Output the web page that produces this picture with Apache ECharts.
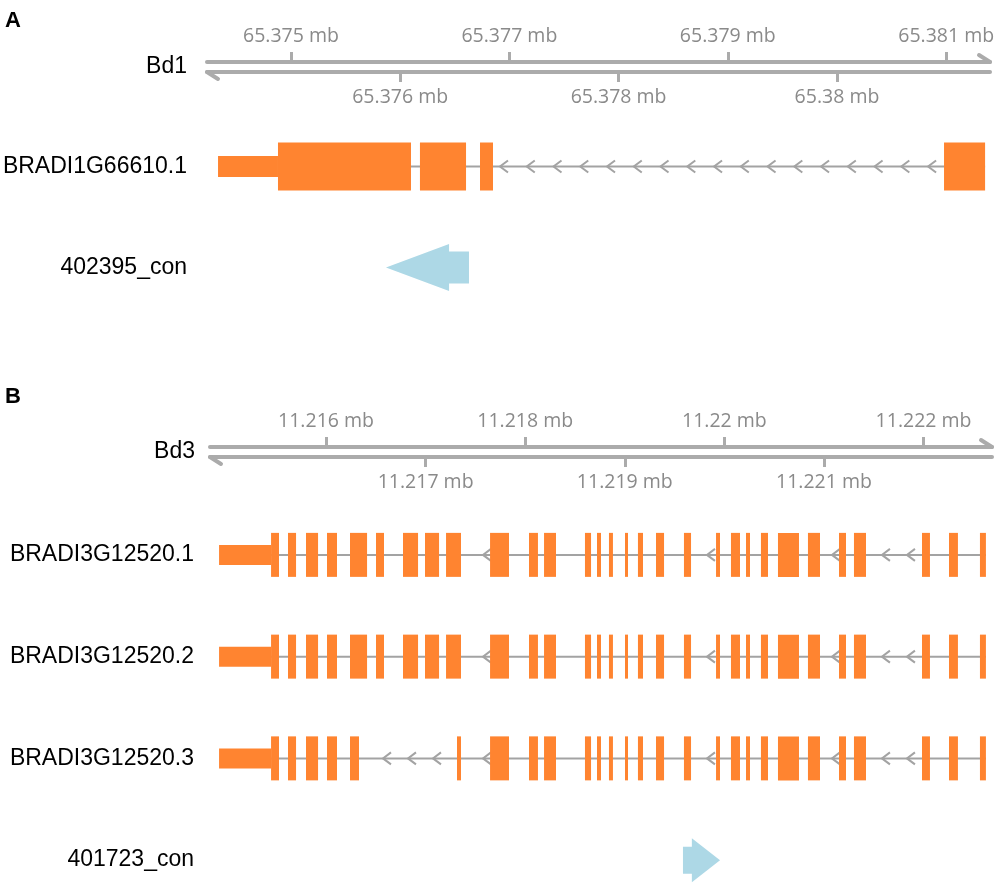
<!DOCTYPE html>
<html><head><meta charset="utf-8">
<script src="https://cdn.jsdelivr.net/npm/echarts@6/dist/echarts.min.js"></script>
<style>html,body{margin:0;padding:0;background:#fff}#c{width:1000px;height:887px}</style>
</head><body><div id="c"></div>
<script>
// ================= DATA =================
// Panel A
const chromA = 'Bd1';
const rangeA = [65374231, 65381401];
const ticksTopA = [65375000, 65377000, 65379000, 65381000];
const ticksBottomA = [65376000, 65378000, 65380000];
const rowsA = ['BRADI1G66610.1', '402395_con'];
const utrA1 = [[65374332, 65374881]];
const cdsA1 = [[65374881, 65376099], [65376181, 65376603], [65376731, 65376850], [65380980, 65381356]];
const chevronsA1 = [65376914, 65377159, 65377404, 65377649, 65377894, 65378139, 65378384, 65378629,
  65378874, 65379119, 65379364, 65379609, 65379854, 65380099, 65380344, 65380589, 65380834];
const conA = [65375870, 65376630];
const conAStrand = -1;

// Panel B
const chromB = 'Bd3';
const rangeB = [11214835, 11222687];
const ticksTopB = [11216000, 11218000, 11220000, 11222000];
const ticksBottomB = [11217000, 11219000, 11221000];
const rowsB = ['BRADI3G12520.1', 'BRADI3G12520.2', 'BRADI3G12520.3', '401723_con'];
const utrB1 = [[11214926, 11215448]];
const utrB2 = [[11214926, 11215448]];
const utrB3 = [[11214926, 11215448]];
const cdsB1 = [[11215448,11215528],[11215618,11215699],[11215799,11215920],[11216010,11216110],[11216241,11216412],
  [11216502,11216582],[11216773,11216924],[11216994,11217135],[11217205,11217355],[11217647,11217837],
  [11218038,11218128],[11218189,11218309],[11218600,11218661],[11218721,11218761],[11218841,11218881],
  [11219002,11219032],[11219132,11219183],[11219313,11219394],[11219594,11219665],[11219916,11219956],
  [11220066,11220157],[11220217,11220257],[11220367,11220438],[11220538,11220749],[11220839,11220960],
  [11221151,11221221],[11221301,11221422],[11221984,11222064],[11222255,11222345],[11222566,11222626]];
const cdsB2 = [[11215448,11215528],[11215618,11215699],[11215799,11215920],[11216010,11216110],[11216241,11216412],
  [11216502,11216582],[11216773,11216924],[11216994,11217135],[11217205,11217355],[11217647,11217837],
  [11218038,11218128],[11218189,11218309],[11218600,11218661],[11218721,11218761],[11218841,11218881],
  [11219002,11219032],[11219132,11219183],[11219313,11219394],[11219594,11219665],[11219916,11219956],
  [11220066,11220157],[11220217,11220257],[11220367,11220438],[11220538,11220749],[11220839,11220960],
  [11221151,11221221],[11221301,11221422],[11221984,11222064],[11222255,11222345],[11222566,11222626]];
const cdsB3 = [[11215448,11215528],[11215618,11215699],[11215799,11215920],[11216010,11216110],[11216241,11216331],
  [11217315,11217355],[11217647,11217837],
  [11218038,11218128],[11218189,11218309],[11218600,11218661],[11218721,11218761],[11218841,11218881],
  [11219002,11219032],[11219132,11219183],[11219313,11219394],[11219594,11219665],[11219916,11219956],
  [11220066,11220157],[11220217,11220257],[11220367,11220438],[11220538,11220749],[11220839,11220960],
  [11221151,11221221],[11221301,11221422],[11221984,11222064],[11222255,11222345],[11222566,11222626]];
const chevronsB1 = [11217576, 11219825, 11221080, 11221582, 11221833];
const chevronsB2 = [11217576, 11219825, 11221080, 11221582, 11221833];
const chevronsB3 = [11216572, 11216823, 11217074, 11217576, 11219825, 11221080, 11221582, 11221833];
const conB = [11219584, 11219956];
const conBStrand = 1;

// ================= STYLE / BUILD =================
const ORANGE = '#ff8430';
const GREY = '#a3a3a3';
const AXIS_GREY = '#ababab';
const TICK_TEXT = '#8a8a8a';
const BLUE = '#add8e6';
const LABEL_FONT = 'Liberation Sans';
const TICK_FONT = 'Open Sans';

function mbFormatter(v) { return parseFloat((v / 1e6).toFixed(3)) + ' mb'; }

function transcriptItems(utr, cds, row) {
  const exons = [], introns = [];
  utr.forEach(u => exons.push([u[0], u[1], row, 0]));
  cds.forEach(c => exons.push([c[0], c[1], row, 1]));
  const s = Math.min(...cds.map(c => c[0])), e = Math.max(...cds.map(c => c[1]));
  introns.push([s, e, row]);
  return { exons, introns };
}

function rulerAxes(grid, range, top, bottom) {
  const line = { show: true, lineStyle: { color: AXIS_GREY, width: 4 } };
  const base = { type: 'value', gridIndex: grid, min: range[0], max: range[1], splitLine: { show: false } };
  return [
    Object.assign({}, base, {
      position: 'top', axisLine: line,
      axisTick: { show: true, customValues: top, length: 10, lineStyle: { color: AXIS_GREY, width: 3 } },
      axisLabel: { show: true, customValues: top, formatter: mbFormatter, color: TICK_TEXT, fontSize: 19.5, fontFamily: TICK_FONT, margin: 16 }
    }),
    Object.assign({}, base, {
      position: 'bottom', axisLine: line,
      axisTick: { show: true, customValues: bottom, length: 10, lineStyle: { color: AXIS_GREY, width: 3 } },
      axisLabel: { show: true, customValues: bottom, formatter: mbFormatter, color: TICK_TEXT, fontSize: 19.5, fontFamily: TICK_FONT, margin: 15 }
    })
  ];
}

function trackXAxis(grid, range) {
  return { type: 'value', gridIndex: grid, min: range[0], max: range[1], show: false };
}

function catYAxis(grid, rows, margin) {
  return {
    type: 'category', gridIndex: grid, data: rows, inverse: true,
    axisLine: { show: false }, axisTick: { show: false }, splitLine: { show: false },
    axisLabel: { color: '#000', fontSize: 23, fontFamily: LABEL_FONT, margin: margin }
  };
}

function barbSeries(xi, yi, range) {
  return {
    type: 'custom', xAxisIndex: xi, yAxisIndex: yi, silent: true, z: 5,
    data: [[range[0], range[1], 0]],
    renderItem: function (params, api) {
      const cs = params.coordSys;
      const l = api.coord([api.value(0), 0])[0];
      const r = api.coord([api.value(1), 0])[0];
      const yT = cs.y, yB = cs.y + cs.height;
      const st = { stroke: AXIS_GREY, lineWidth: 4, lineCap: 'round' };
      return {
        type: 'group', children: [
          { type: 'line', shape: { x1: r, y1: yT, x2: r - 11, y2: yT - 7 }, style: st },
          { type: 'line', shape: { x1: l, y1: yB, x2: l + 11, y2: yB + 7 }, style: st }
        ]
      };
    }
  };
}

function exonSeries(xi, yi, items, hCds, hUtr) {
  return {
    type: 'custom', xAxisIndex: xi, yAxisIndex: yi, silent: true, z: 4,
    encode: { x: [0, 1], y: 2 }, data: items,
    renderItem: function (params, api) {
      const r = api.value(2);
      const p0 = api.coord([api.value(0), r]), p1 = api.coord([api.value(1), r]);
      const h = api.value(3) ? hCds : hUtr;
      return { type: 'rect', shape: { x: p0[0], y: p0[1] - h / 2, width: Math.max(p1[0] - p0[0], 1.5), height: h },
        style: { fill: ORANGE } };
    }
  };
}

function intronSeries(xi, yi, items) {
  return {
    type: 'custom', xAxisIndex: xi, yAxisIndex: yi, silent: true, z: 2,
    encode: { x: [0, 1], y: 2 }, data: items,
    renderItem: function (params, api) {
      const r = api.value(2);
      const p0 = api.coord([api.value(0), r]), p1 = api.coord([api.value(1), r]);
      return { type: 'line', shape: { x1: p0[0], y1: p0[1], x2: p1[0], y2: p1[1] }, style: { stroke: GREY, lineWidth: 2 } };
    }
  };
}

function chevronSeries(xi, yi, items) {
  return {
    type: 'custom', xAxisIndex: xi, yAxisIndex: yi, silent: true, z: 3,
    encode: { x: 0, y: 1 }, data: items,
    renderItem: function (params, api) {
      const p = api.coord([api.value(0), api.value(1)]);
      return { type: 'polyline', shape: { points: [[p[0] + 8, p[1] - 6], [p[0], p[1]], [p[0] + 8, p[1] + 6]] },
        style: { stroke: GREY, lineWidth: 2, fill: null } };
    }
  };
}

function arrowSeries(xi, yi, items, hHead, hShaft) {
  return {
    type: 'custom', xAxisIndex: xi, yAxisIndex: yi, silent: true, z: 4,
    encode: { x: [0, 1], y: 2 }, data: items,
    renderItem: function (params, api) {
      const r = api.value(2), dir = api.value(3);
      const a = api.coord([api.value(0), r]), b = api.coord([api.value(1), r]);
      const y = a[1], len = b[0] - a[0], head = len * 0.76;
      let pts;
      if (dir < 0) {
        const hb = a[0] + head;
        pts = [[a[0], y], [hb, y - hHead / 2], [hb, y - hShaft / 2], [b[0], y - hShaft / 2],
               [b[0], y + hShaft / 2], [hb, y + hShaft / 2], [hb, y + hHead / 2]];
      } else {
        const hb = b[0] - head;
        pts = [[b[0], y], [hb, y - hHead / 2], [hb, y - hShaft / 2], [a[0], y - hShaft / 2],
               [a[0], y + hShaft / 2], [hb, y + hShaft / 2], [hb, y + hHead / 2]];
      }
      return { type: 'polygon', shape: { points: pts }, style: { fill: BLUE } };
    }
  };
}

// Build panel A items
const tA1 = transcriptItems(utrA1, cdsA1, 0);
const chevA = chevronsA1.map(p => [p, 0]);
// Build panel B items
const tB = [transcriptItems(utrB1, cdsB1, 0), transcriptItems(utrB2, cdsB2, 1), transcriptItems(utrB3, cdsB3, 2)];
const chevB = [].concat(chevronsB1.map(p => [p, 0]), chevronsB2.map(p => [p, 1]), chevronsB3.map(p => [p, 2]));

const gridCommon = { containLabel: false, outerBoundsMode: 'none', show: false };

const option = {
  backgroundColor: '#fff',
  animation: false,
  title: [
    { text: 'A', left: 5, top: 10, padding: 0, textStyle: { fontSize: 22, fontWeight: 'bold', fontFamily: LABEL_FONT, color: '#000' } },
    { text: 'B', left: 5, top: 386, padding: 0, textStyle: { fontSize: 22, fontWeight: 'bold', fontFamily: LABEL_FONT, color: '#000' } }
  ],
  grid: [
    Object.assign({ left: 207, width: 783, top: 62, height: 10 }, gridCommon),
    Object.assign({ left: 207, width: 783, top: 116, height: 202 }, gridCommon),
    Object.assign({ left: 210, width: 782, top: 447, height: 10 }, gridCommon),
    Object.assign({ left: 210, width: 782, top: 504, height: 407 }, gridCommon)
  ],
  xAxis: [].concat(
    rulerAxes(0, rangeA, ticksTopA, ticksBottomA),   // 0,1
    [trackXAxis(1, rangeA)],                        // 2
    rulerAxes(2, rangeB, ticksTopB, ticksBottomB),   // 3,4
    [trackXAxis(3, rangeB)]                         // 5
  ),
  yAxis: [
    catYAxis(0, [chromA], 20),
    catYAxis(1, rowsA, 20),
    catYAxis(2, [chromB], 15),
    catYAxis(3, rowsB, 16)
  ],
  series: [
    barbSeries(0, 0, rangeA),
    intronSeries(2, 1, tA1.introns),
    chevronSeries(2, 1, chevA),
    exonSeries(2, 1, tA1.exons, 48, 21),
    arrowSeries(2, 1, [[conA[0], conA[1], 1, conAStrand]], 47, 32),

    barbSeries(3, 2, rangeB),
    intronSeries(5, 3, [].concat(tB[0].introns, tB[1].introns, tB[2].introns)),
    chevronSeries(5, 3, chevB),
    exonSeries(5, 3, [].concat(tB[0].exons, tB[1].exons, tB[2].exons), 44, 20),
    arrowSeries(5, 3, [[conB[0], conB[1], 3, conBStrand]], 44, 27)
  ]
};

const chart = echarts.init(document.getElementById('c'), null, { renderer: 'canvas' });
chart.setOption(option);
</script>
</body></html>
